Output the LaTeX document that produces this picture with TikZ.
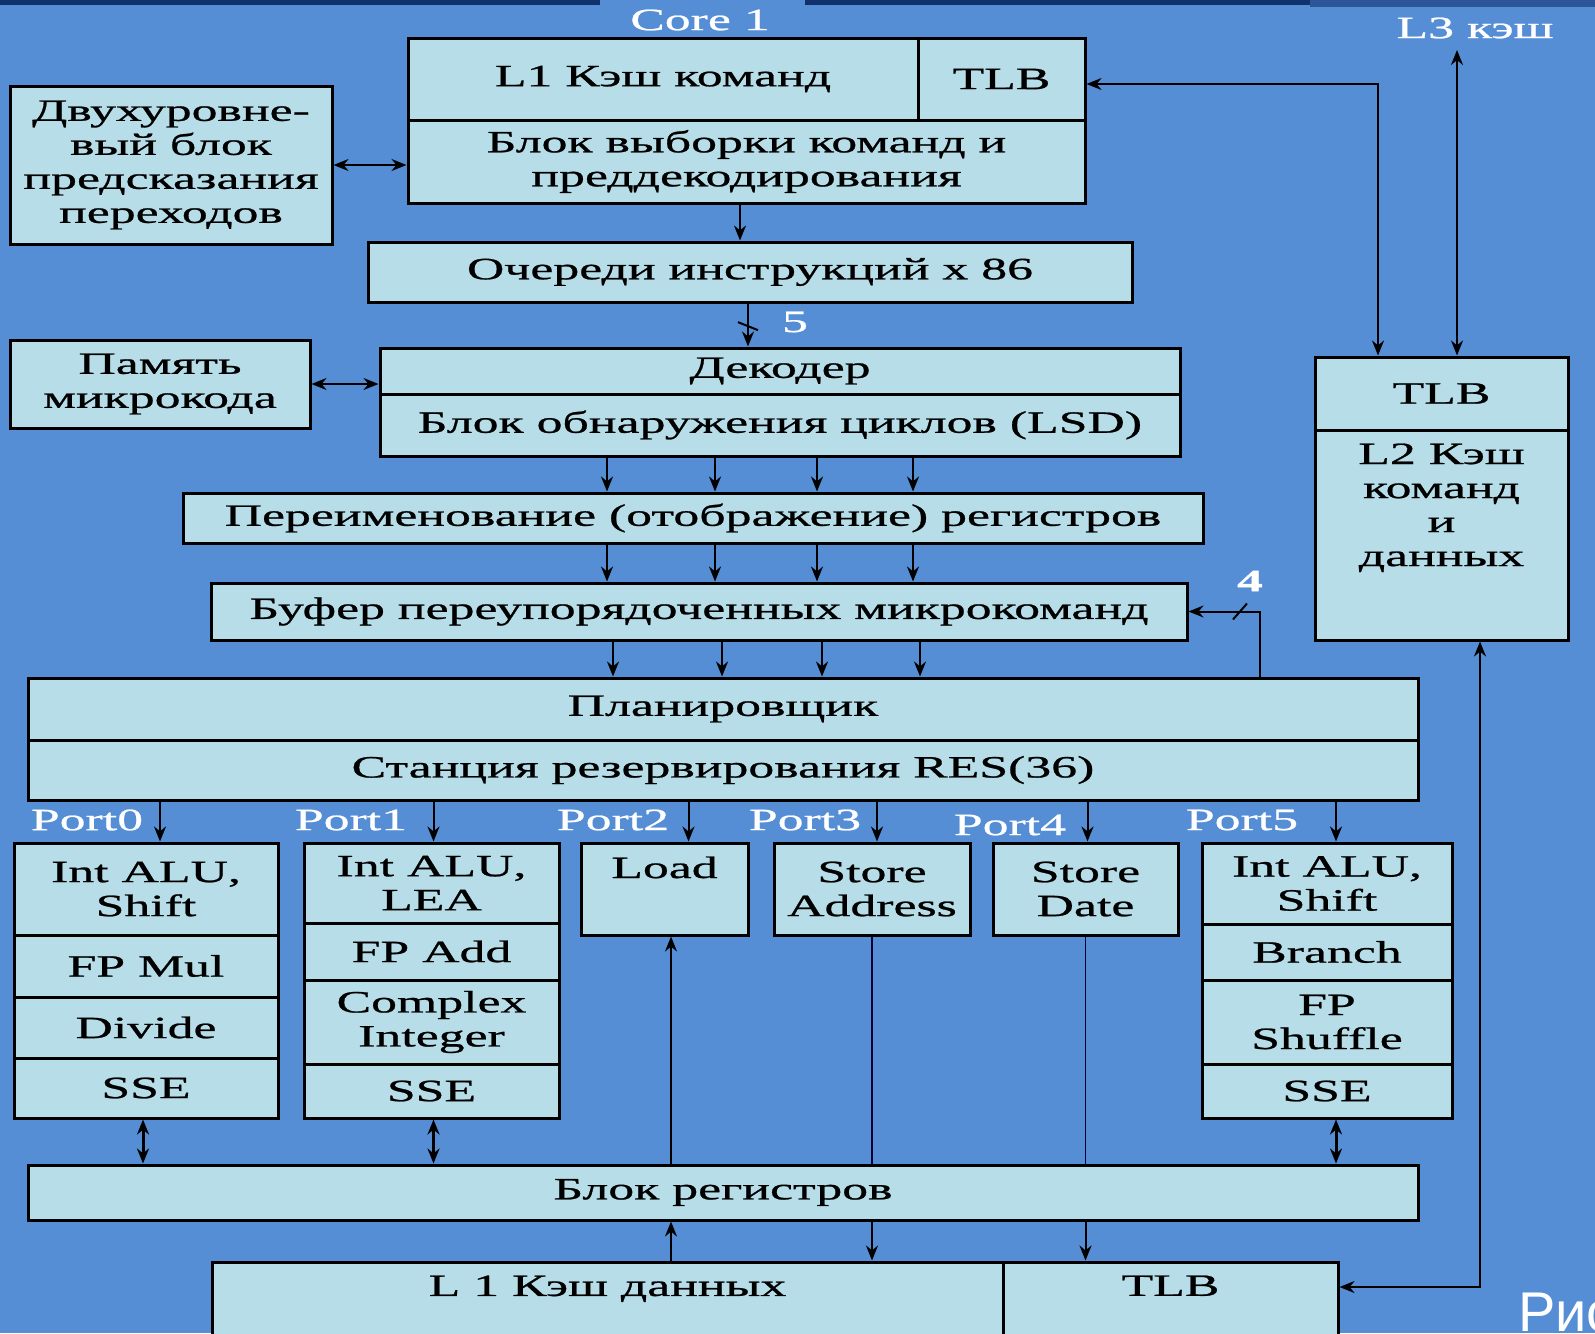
\documentclass[tikz,border=0pt]{standalone}
\usepackage{fontspec}
\setmainfont{Liberation Serif}[FakeStretch=1.67, FakeBold=0.8]
\newfontfamily\sansfnt{Liberation Sans}
\usetikzlibrary{arrows.meta,calc}
\definecolor{slidebg}{HTML}{558ED5}
\definecolor{boxfill}{HTML}{B7DEE8}
\definecolor{topbar}{HTML}{10306E}
\newdimen\pix \pix=0.5pt
\newcommand\boxfont{\fontsize{15.5}{17}\selectfont}
\tikzset{
every picture/.style={
line width=1pt
}}

\begin{document}
\begin{tikzpicture}[x=0.5pt, y=-0.5pt,
block/.style = {rectangle, draw=black, line width=1.5pt, fill=boxfill, inner sep=0pt, align=center, font=\boxfont},
sz/.style 2 args = {minimum width=#1\pix, minimum height=#2\pix},
topl/.style = {label={[anchor=north, inner sep=7pt, align=center, font=\boxfont]north:#1}},
wlbl/.style = {text=white, inner sep=0pt, font=\boxfont},
arr/.style = {line width=1pt, -{Stealth[length=7.5pt, width=6pt]}},
darr/.style = {line width=1pt, {Stealth[length=7.5pt, width=6pt]}-{Stealth[length=7.5pt, width=6pt]}},
thinl/.style = {line width=0.75pt, draw=black!80!blue}]

\fill[slidebg] (0,0) rectangle (1595,1333);
\useasboundingbox (0,0) rectangle (1595,1333);
\fill[topbar] (0,0) rectangle (600,5);
\fill[topbar] (805,0) rectangle (1310,5);
\fill[topbar!60!slidebg] (1310,0) rectangle (1595,7);

\node[wlbl] (core) at (700,20) {Core 1};
\node[block, sz={510}{82}] (l1i) at (663,79) {L1 Кэш команд};
\node[block, sz={167}{82}] (tlbi) at (1001.5,79) {TLB};
\node[block, sz={677}{83}] (fetch) at (746.5,161.5) {Блок выборки команд и\\преддекодирования};
\node[block, sz={322}{158}] (bpu) at (171,165) {Двухуровне-\\вый блок\\предсказания\\переходов};
\node[block, sz={764}{60}] (queue) at (750,272) {Очереди инструкций x 86};
\node[block, sz={300}{88}] (ucode) at (160,384) {Память\\микрокода};
\node[block, sz={800}{46}] (dec) at (780,371) {Декодер};
\node[block, sz={800}{62}] (lsd) at (780,425) {Блок обнаружения циклов (LSD)};
\node[block, sz={1020}{50}] (ren) at (693,518) {Переименование (отображение) регистров};
\node[block, sz={976}{57}] (rob) at (699,611.5) {Буфер переупорядоченных микрокоманд};
\node[block, sz={1390}{62}] (sched) at (723,709) {Планировщик};
\node[block, sz={1390}{60}] (stat) at (723,770) {Станция резервирования RES(36)};

\node[wlbl] (port0) at (87,820) {Port0};
\node[wlbl] (port1) at (351,820) {Port1};
\node[wlbl] (port2) at (613,820) {Port2};
\node[wlbl] (port3) at (805,820) {Port3};
\node[wlbl] (port4) at (1010,825) {Port4};
\node[wlbl] (port5) at (1242,820) {Port5};

\node[block, sz={264}{92}] (p0a) at (146,889) {Int ALU,\\Shift};
\node[block, sz={264}{62}] (p0b) at (146,966) {FP Mul};
\node[block, sz={264}{61}] (p0c) at (146,1027.5) {Divide};
\node[block, sz={264}{60}] (p0d) at (146,1088) {SSE};
\node[block, sz={255}{80}] (p1a) at (431.5,883) {Int ALU,\\LEA};
\node[block, sz={255}{57}] (p1b) at (431.5,951.5) {FP Add};
\node[block, sz={255}{84}] (p1c) at (431.5,1022) {Complex\\Integer};
\node[block, sz={255}{54}] (p1d) at (431.5,1091) {SSE};
\node[block, sz={167}{92}, topl=Load] (load) at (664.5,889) {};
\node[block, sz={196}{92}] (sa) at (872,889) {Store\\Address};
\node[block, sz={185}{92}] (sd) at (1085.5,889) {Store\\Date};
\node[block, sz={250}{81}] (p5a) at (1327,883.5) {Int ALU,\\Shift};
\node[block, sz={250}{56}] (p5b) at (1327,952) {Branch};
\node[block, sz={250}{84}] (p5c) at (1327,1022) {FP\\Shuffle};
\node[block, sz={250}{54}] (p5d) at (1327,1091) {SSE};

\node[block, sz={1390}{55}] (regs) at (723,1192.5) {Блок регистров};
\node[block, sz={791}{83}, topl={L 1 Кэш данных}] (l1d) at (607.5,1303.5) {};
\node[block, sz={335}{83}, topl=TLB] (tlbd) at (1170.5,1303.5) {};

\node[block, sz={253}{73}] (l2tlb) at (1441.5,393.5) {TLB};
\node[block, sz={253}{210}, topl={L2 Кэш\\команд\\и\\данных}] (l2) at (1441.5,535) {};
\node[wlbl] (l3) at (1475,28) {L3 кэш};
\coordinate (l3end) at (1457,50);

\node[text=white, font=\sansfnt\fontsize{28}{30}\selectfont, anchor=base west, inner sep=0pt] (fig) at (1517,1331) {Рис.};

\draw[darr] (bpu.east) -- (bpu.east -| fetch.west);
\draw[darr] (ucode.east) -- (ucode.east -| dec.west);
\draw[arr] (fetch.south -| 740,0) -- (queue.north -| 740,0);
\draw[arr] (queue.south -| 748,0) -- coordinate[pos=.55] (s5) (dec.north -| 748,0);
\draw ($(s5)+(-10,-5)$) -- ($(s5)+(10,3)$);
\node[wlbl] (n5) at (795,322) {5};

\foreach \x in {607,715,817,913}
\draw[arr] (lsd.south -| \x,0) -- (ren.north -| \x,0);
\foreach \x in {607,715,817,913}
\draw[arr] (ren.south -| \x,0) -- (rob.north -| \x,0);
\foreach \x in {613,722,822,920}
\draw[arr] (rob.south -| \x,0) -- (sched.north -| \x,0);

\draw[arr] ($(sched.north)+(537,0)$) |- coordinate[pos=.64] (s4) (rob.east);
\draw ($(s4)+(-7,8)$) -- ($(s4)+(7,-8)$);
\node[wlbl, font=\boxfont\bfseries] (n4) at (1250,581) {4};

\foreach \n/\s in {p0a/14, p1a/2, load/24, sa/5, sd/2, p5a/9}
\draw[arr] ($(\n.north |- stat.south)+(\s,0)$) -- ($(\n.north)+(\s,0)$);

\foreach \n/\s in {p0d/-3, p1d/2, p5d/9}
\draw[darr, line width=1.5pt] ($(\n.south)+(\s,0)$) -- ($(\n.south |- regs.north)+(\s,0)$);

\draw[arr] ($(load.south |- regs.north)+(6.5,0)$) -- ($(load.south)+(6.5,0)$);
\draw[thinl] (sa.south) -- (sa.south |- regs.north);
\draw[thinl] (sd.south) -- (sd.south |- regs.north);
\draw[arr] ($(load.south |- l1d.north)+(6.5,0)$) -- ($(load.south |- regs.south)+(6.5,0)$);
\draw[arr] (regs.south -| sa) -- (l1d.north -| sa);
\draw[arr] (regs.south -| sd) -- (tlbd.north -| sd);

\draw[darr] ($(l2tlb.north)+(-63.5,0)$) |- ([yshift=-2.5pt]tlbi.east);
\draw[darr] (l2tlb.north -| l3end) -- (l3end);
\draw[darr] ($(l2.south)+(38.5,0)$) |- ([yshift=8.25pt]tlbd.east);
\end{tikzpicture}
\end{document}
